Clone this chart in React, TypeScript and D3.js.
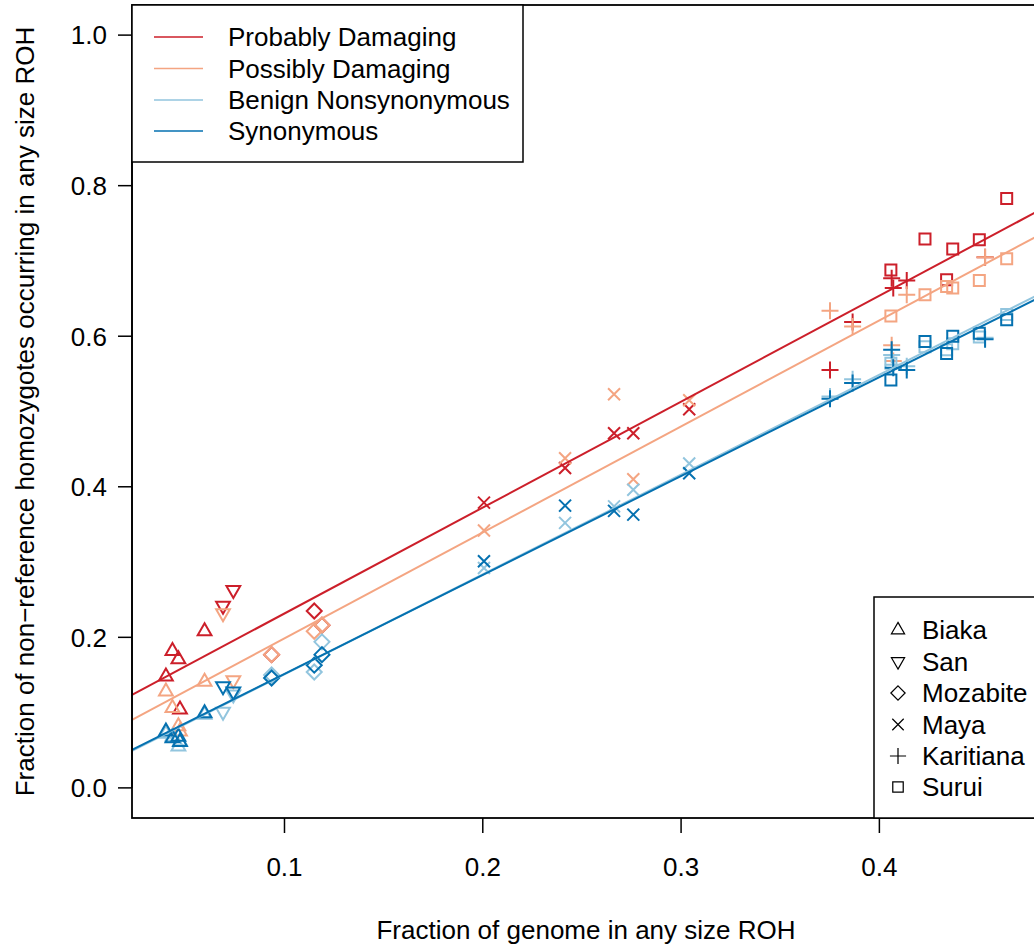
import React from 'react';
import * as d3 from 'd3';

// categories (colour order) and populations (symbol order)
const categories = ['Probably Damaging', 'Possibly Damaging', 'Benign Nonsynonymous', 'Synonymous'];
const catColors = ['#cc1f2a', '#f4a582', '#92c5de', '#0571b0'];
const populations = ['Biaka', 'San', 'Mozabite', 'Maya', 'Karitiana', 'Surui'];

// fraction of genome in ROH, one value per individual
const biakaRoh = [0.0402, 0.0435, 0.0465, 0.0473, 0.0597];
const sanRoh = [0.069, 0.0742];
const mozabiteRoh = [0.0935, 0.115, 0.1189];
const mayaRoh = [0.2006, 0.2415, 0.2662, 0.2759, 0.3041];
const karitianaRoh = [0.3751, 0.3865, 0.4062, 0.407, 0.4138, 0.4533];
const suruiRoh = [0.4058, 0.423, 0.4339, 0.437, 0.4504, 0.4642];

// fraction of non-reference homozygotes in ROH, rows follow categories
const biakaHom = [
  [0.148, 0.182, 0.171, 0.104, 0.208],
  [0.128, 0.106, 0.082, 0.075, 0.141],
  [0.072, 0.068, 0.055, 0.062, 0.097],
  [0.075, 0.066, 0.068, 0.061, 0.099],
];
const sanHom = [
  [0.242, 0.263],
  [0.232, 0.143],
  [0.101, 0.124],
  [0.135, 0.128],
];
const mozabiteHom = [
  [0.177, 0.235, 0.216],
  [0.177, 0.208, 0.216],
  [0.15, 0.154, 0.194],
  [0.146, 0.163, 0.177],
];
const mayaHom = [
  [0.379, 0.425, 0.471, 0.471, 0.503],
  [0.342, 0.438, 0.523, 0.41, 0.515],
  [0.292, 0.352, 0.374, 0.396, 0.431],
  [0.301, 0.375, 0.368, 0.363, 0.418],
];
const karitianaHom = [
  [0.555, 0.619, 0.677, 0.664, 0.674, 0.705],
  [0.634, 0.613, 0.588, 0.567, 0.655, 0.705],
  [0.52, 0.543, 0.575, 0.562, 0.56, 0.598],
  [0.517, 0.538, 0.582, 0.558, 0.555, 0.596],
];
const suruiHom = [
  [0.688, 0.729, 0.675, 0.716, 0.728, 0.783],
  [0.627, 0.655, 0.666, 0.664, 0.674, 0.703],
  [0.564, 0.586, 0.582, 0.59, 0.599, 0.629],
  [0.542, 0.593, 0.577, 0.6, 0.604, 0.622],
];

// fitted lines per category
const fitIntercept = [0.091, 0.0578, 0.0184, 0.0202];
const fitSlope = [1.407, 1.408, 1.326, 1.3135];

const xTicks = [0.1, 0.2, 0.3, 0.4];
const yTicks = [0, 0.2, 0.4, 0.6, 0.8, 1.0];

const rohList = [biakaRoh, sanRoh, mozabiteRoh, mayaRoh, karitianaRoh, suruiRoh];
const homList = [biakaHom, sanHom, mozabiteHom, mayaHom, karitianaHom, suruiHom];

const W = 1034, H = 947;
const left = 132, right = 1040, top = 5, bottom = 818;
const font = '"Liberation Sans", Arial, Helvetica, sans-serif';
const fs = 26;

// R style marker shapes
const shapes = [
  'M0,-8L6.9,4L-6.9,4Z',
  'M0,8L6.9,-4L-6.9,-4Z',
  'M0,-7.5L7.5,0L0,7.5L-7.5,0Z',
  'M-6,-6L6,6M-6,6L6,-6',
  'M-8.5,0H8.5M0,-8.5V8.5',
  'M-5.5,-5.5H5.5V5.5H-5.5Z',
];

export default function App() {
  const x = d3.scaleLinear().domain([0.0231, 0.481]).range([left, right]);
  const y = d3.scaleLinear().domain([-0.04, 1.04]).range([bottom, top]);

  const points: JSX.Element[] = [];
  categories.forEach((_, c) => {
    populations.forEach((p, pi) => {
      rohList[pi].forEach((r, k) => {
        points.push(
          <path key={`${c}-${pi}-${k}`} d={shapes[pi]}
            transform={`translate(${x(r)},${y(homList[pi][c][k])})`}
            fill="none" stroke={catColors[c]} strokeWidth={2} />
        );
      });
    });
  });

  const [x0, x1] = x.domain();
  const fitLines = categories.map((_, c) => {
    const gen = d3.line<number>().x(d => x(d)).y(d => y(fitIntercept[c] + fitSlope[c] * d));
    return <path key={c} d={gen([x0, x1]) || ''} stroke={catColors[c]} strokeWidth={2} fill="none" />;
  });

  const legRowY = [37, 68.5, 100, 131];
  const popRowY = [630, 661.5, 693, 724.5, 756, 787];

  return (
    <svg width={W} height={H} style={{ position: 'absolute', left: 0, top: 0, background: '#fff' }}
      fontFamily={font}>
      <defs>
        <clipPath id="plotClip">
          <rect x={left} y={top} width={right - left} height={bottom - top} />
        </clipPath>
      </defs>
      <rect x={0} y={0} width={W} height={H} fill="#fff" />
      <g clipPath="url(#plotClip)">
        {points}
        {fitLines}
      </g>

      {/* frame */}
      <rect x={left} y={top} width={right - left} height={bottom - top} fill="none" stroke="#000" strokeWidth={1.8} />

      {/* y axis */}
      <line x1={left} x2={left} y1={y(0)} y2={y(1)} stroke="#000" strokeWidth={1.5} />
      {yTicks.map(t => (
        <g key={t}>
          <line x1={left - 14} x2={left} y1={y(t)} y2={y(t)} stroke="#000" strokeWidth={1.5} />
          <text x={107} y={y(t)} dy="0.36em" textAnchor="end" fontSize={fs}>{t.toFixed(1)}</text>
        </g>
      ))}
      <text transform={`translate(34,${(top + bottom) / 2}) rotate(-90)`} textAnchor="middle" fontSize={fs}>
        Fraction of non−reference homozygotes occurring in any size ROH
      </text>

      {/* x axis */}
      {xTicks.map(t => (
        <g key={t}>
          <line x1={x(t)} x2={x(t)} y1={bottom} y2={bottom + 15} stroke="#000" strokeWidth={1.5} />
          <text x={x(t)} y={867} dy="0.36em" textAnchor="middle" fontSize={fs}>{t.toFixed(1)}</text>
        </g>
      ))}
      <text x={(left + right) / 2} y={930} dy="0.36em" textAnchor="middle" fontSize={fs}>
        Fraction of genome in any size ROH
      </text>

      {/* category legend */}
      <rect x={left} y={top} width={523 - left} height={162 - top} fill="#fff" stroke="#000" strokeWidth={1.5} />
      {categories.map((name, c) => (
        <g key={name}>
          <line x1={154} x2={203} y1={legRowY[c]} y2={legRowY[c]} stroke={catColors[c]} strokeWidth={1.5} />
          <text x={228} y={legRowY[c]} dy="0.36em" fontSize={fs}>{name}</text>
        </g>
      ))}

      {/* population legend */}
      <rect x={874} y={597} width={200} height={bottom - 597} fill="#fff" stroke="#000" strokeWidth={1.5} />
      {populations.map((name, pi) => (
        <g key={name}>
          <path d={shapes[pi]} transform={`translate(898,${popRowY[pi]}) scale(0.95)`} fill="none" stroke="#000" strokeWidth={1.3} />
          <text x={922} y={popRowY[pi]} dy="0.36em" fontSize={fs}>{name}</text>
        </g>
      ))}
    </svg>
  );
}
